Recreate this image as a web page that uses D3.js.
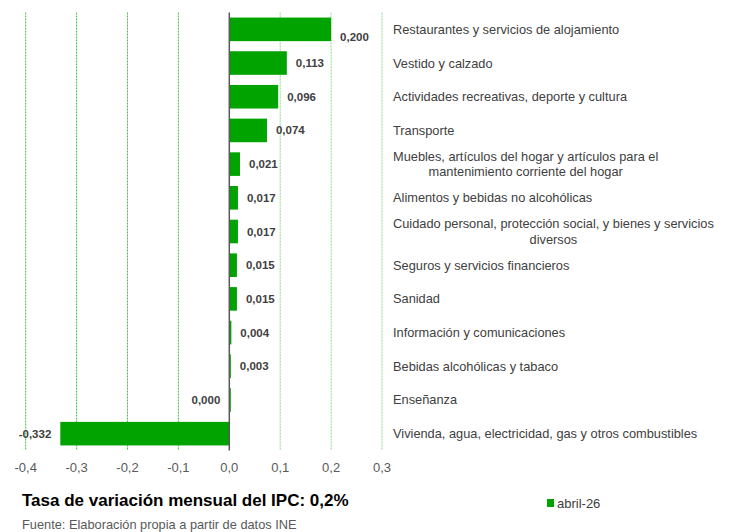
<!DOCTYPE html>
<html>
  <head>
    <title>IPC abril-26</title>
  </head>
  <body>
    <svg id="svg" width="730" height="532"></svg>

    <script src="https://cdn.jsdelivr.net/npm/d3@7"></script>
    <style>
      body, html { margin: 0; padding: 0; background: #fff; }
      svg { display: block; font-family: "Liberation Sans", Arial, sans-serif; }
    </style>
    <script>
      // categories (top to bottom), lines split where the original wraps
      const categories = [
        ["Restaurantes y servicios de alojamiento"],
        ["Vestido y calzado"],
        ["Actividades recreativas, deporte y cultura"],
        ["Transporte"],
        ["Muebles, artículos del hogar y artículos para el", "mantenimiento corriente del hogar"],
        ["Alimentos y bebidas no alcohólicas"],
        ["Cuidado personal, protección social, y bienes y servicios", "diversos"],
        ["Seguros y servicios financieros"],
        ["Sanidad"],
        ["Información y comunicaciones"],
        ["Bebidas alcohólicas y tabaco"],
        ["Enseñanza"],
        ["Vivienda, agua, electricidad, gas y otros combustibles"]
      ];
      const values = [0.200, 0.113, 0.096, 0.074, 0.021, 0.017, 0.017, 0.015, 0.015, 0.004, 0.003, 0.000, -0.332];
      const xTicks = [-0.4, -0.3, -0.2, -0.1, 0.0, 0.1, 0.2, 0.3];
      const seriesName = "abril-26";
      const title = "Tasa de variación mensual del IPC: 0,2%";
      const source = "Fuente: Elaboración propia a partir de datos INE";

      const green = "#00a300";
      const fmt = (v, d) => v.toFixed(d).replace(".", ",");

      const svg = d3.select("#svg");

      const x = d3.scaleLinear()
        .domain([-0.4, 0.3])
        .range([25.7, 382]);

      const y = d3.scaleBand()
        .domain(d3.range(values.length))
        .range([12.5, 450.5])
        .paddingInner(0.3)
        .paddingOuter(0.15);

      // dashed vertical gridlines
      svg.append("g")
        .selectAll("line")
        .data(xTicks.filter(t => t !== 0))
        .join("line")
        .attr("x1", d => x(d)).attr("x2", d => x(d))
        .attr("y1", 12.5).attr("y2", 450.5)
        .attr("stroke", d => d < 0 ? "#3cc43c" : "#8ed88e")
        .attr("stroke-width", 1)
        .attr("stroke-dasharray", "2,1");

      // bars
      svg.append("g")
        .selectAll("rect")
        .data(values)
        .join("rect")
        .attr("x", d => x(Math.min(0, d)))
        .attr("y", (d, i) => y(i))
        .attr("width", d => Math.max(Math.abs(x(d) - x(0)), 1.5))
        .attr("height", y.bandwidth())
        .attr("fill", green);

      // zero axis line
      svg.append("line")
        .attr("x1", x(0)).attr("x2", x(0))
        .attr("y1", 12.5).attr("y2", 450.5)
        .attr("stroke", "#595959")
        .attr("stroke-width", 1.5);

      // value labels (Excel pushed the top one a little lower)
      svg.append("g")
        .selectAll("text")
        .data(values)
        .join("text")
        .attr("x", d => d > 0 ? x(d) + 9 : x(Math.min(d, 0)) - 9)
        .attr("y", (d, i) => y(i) + y.bandwidth() / 2 + (i === 0 ? 8 : 0))
        .attr("dy", "0.35em")
        .attr("text-anchor", d => d > 0 ? "start" : "end")
        .attr("font-size", 11.5)
        .attr("font-weight", "bold")
        .attr("fill", "#404040")
        .text(d => fmt(d, 3));

      // category labels (centre-aligned block starting at x=393)
      const catG = svg.append("g").attr("font-size", 12.8).attr("fill", "#404040");
      categories.forEach((lines, i) => {
        const t = catG.append("text")
          .attr("y", y(i) + y.bandwidth() / 2)
          .attr("text-anchor", "middle");
        lines.forEach((ln, j) => {
          t.append("tspan")
            .attr("dy", j === 0 ? (0.35 - (lines.length - 1) * 0.6) + "em" : "1.2em")
            .text(ln);
        });
        // centre of the widest line
        let maxW = 0;
        t.selectAll("tspan").each(function () { maxW = Math.max(maxW, this.getComputedTextLength()); });
        const cx = 393 + maxW / 2;
        t.attr("x", cx);
        t.selectAll("tspan").attr("x", cx);
      });

      // x tick labels
      svg.append("g")
        .selectAll("text")
        .data(xTicks)
        .join("text")
        .attr("x", d => x(d))
        .attr("y", 472)
        .attr("text-anchor", "middle")
        .attr("font-size", 13)
        .attr("fill", "#595959")
        .text(d => fmt(d, 1));

      // title
      svg.append("text")
        .attr("x", 22).attr("y", 506)
        .attr("font-size", 17)
        .attr("font-weight", "bold")
        .attr("fill", "#000")
        .text(title);

      // source
      svg.append("text")
        .attr("x", 22).attr("y", 529)
        .attr("font-size", 12.8)
        .attr("fill", "#595959")
        .text(source);

      // legend
      svg.append("rect")
        .attr("x", 547).attr("y", 499)
        .attr("width", 7).attr("height", 8)
        .attr("fill", green);
      svg.append("text")
        .attr("x", 557).attr("y", 507.5)
        .attr("font-size", 13)
        .attr("fill", "#404040")
        .text(seriesName);
    </script>
  </body>
</html>
